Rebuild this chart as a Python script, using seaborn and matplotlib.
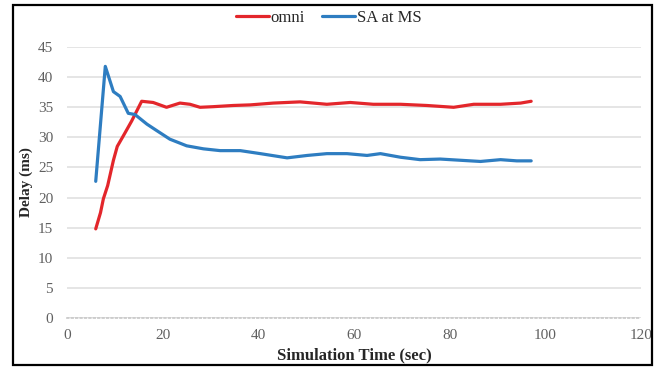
import pandas as pd
import numpy as np
import seaborn as sns
import matplotlib.pyplot as plt
from matplotlib.patches import Rectangle

# values
omni_time = [6, 7, 7.6, 8.5, 9.7, 10.5, 11.8, 13.5, 15.6, 18, 20.8, 23.6, 25.7, 27.8, 30.5,
             34.7, 38.3, 43.1, 48.7, 54.3, 59.2, 64, 69.7, 75.2, 80.8, 85, 90.6, 94.8, 97]
omni_delay = [14.8, 17.5, 19.8, 22.0, 26.2, 28.5, 30.3, 32.7, 36.0, 35.8, 35.0, 35.7, 35.5, 35.0, 35.1,
              35.3, 35.4, 35.7, 35.9, 35.5, 35.8, 35.5, 35.5, 35.3, 35.0, 35.5, 35.5, 35.7, 36.0]

sa_time = [6, 8, 9.7, 11.1, 12.8, 14.2, 16.7, 18.8, 21.5, 25, 28.5, 32, 36.2, 40.4, 46, 50.2,
           54.3, 58.5, 62.7, 65.5, 69.7, 73.8, 78, 82.2, 86.4, 90.6, 94, 97]
sa_delay = [22.7, 41.8, 37.6, 36.8, 34.0, 33.8, 32.2, 31.1, 29.7, 28.6, 28.1, 27.8, 27.8, 27.3, 26.6, 27.0,
            27.3, 27.3, 27.0, 27.3, 26.7, 26.3, 26.4, 26.2, 26.0, 26.3, 26.1, 26.1]

series_names = ['omni', 'SA at MS']
series_colors = ['#E3262B', '#2E7DC1']
x_ticks = [0, 20, 40, 60, 80, 100, 120]
y_ticks = [0, 5, 10, 15, 20, 25, 30, 35, 40, 45]

df = pd.concat([
    pd.DataFrame({'time': omni_time, 'delay': omni_delay, 'series': series_names[0]}),
    pd.DataFrame({'time': sa_time, 'delay': sa_delay, 'series': series_names[1]}),
], ignore_index=True)

sns.set_style('white')
plt.rcParams['font.family'] = ['Liberation Serif', 'DejaVu Serif']

fig = plt.figure(figsize=(6.57, 3.68), dpi=100)
ax = fig.add_axes([0.102, 0.136, 0.874, 0.736])

sns.lineplot(data=df, x='time', y='delay', hue='series', hue_order=series_names,
             palette=series_colors, linewidth=2.3, sort=False, estimator=None, ax=ax)

ax.set_xlim(0, 120)
ax.set_ylim(0, 45)
ax.set_xticks(x_ticks)
ax.set_yticks(y_ticks)
ax.tick_params(axis='both', length=0, labelsize=11, labelcolor='#606060')
ax.tick_params(axis='y', pad=10)
ax.tick_params(axis='x', pad=8)
ax.yaxis.grid(True, color='#E0E0E0', linewidth=1.2)
ax.set_axisbelow(True)
for side in ['top', 'right', 'left']:
    ax.spines[side].set_visible(False)
ax.spines['bottom'].set_color('#C8C8C8')
ax.spines['bottom'].set_linestyle(':')
ax.spines['bottom'].set_linewidth(1.2)

ax.set_xlabel('Simulation Time (sec)', fontsize=12, fontweight='bold', labelpad=4)
ax.set_ylabel('Delay (ms)', fontsize=11, fontweight='bold')
ax.yaxis.set_label_coords(-0.06, 0.5)

ax.legend(loc='center', bbox_to_anchor=(0.5, 0.952), bbox_transform=fig.transFigure,
          ncol=2, frameon=False, fontsize=12, handlelength=2.0, handletextpad=0.1,
          columnspacing=1.0, title=None)

# outer border box around the whole chart
fig.patches.append(Rectangle((13 / 657, 3 / 368), 639 / 657, 360 / 368,
                             transform=fig.transFigure, fill=False,
                             edgecolor='black', linewidth=1.6))

fig.savefig('out.png', dpi=100)
